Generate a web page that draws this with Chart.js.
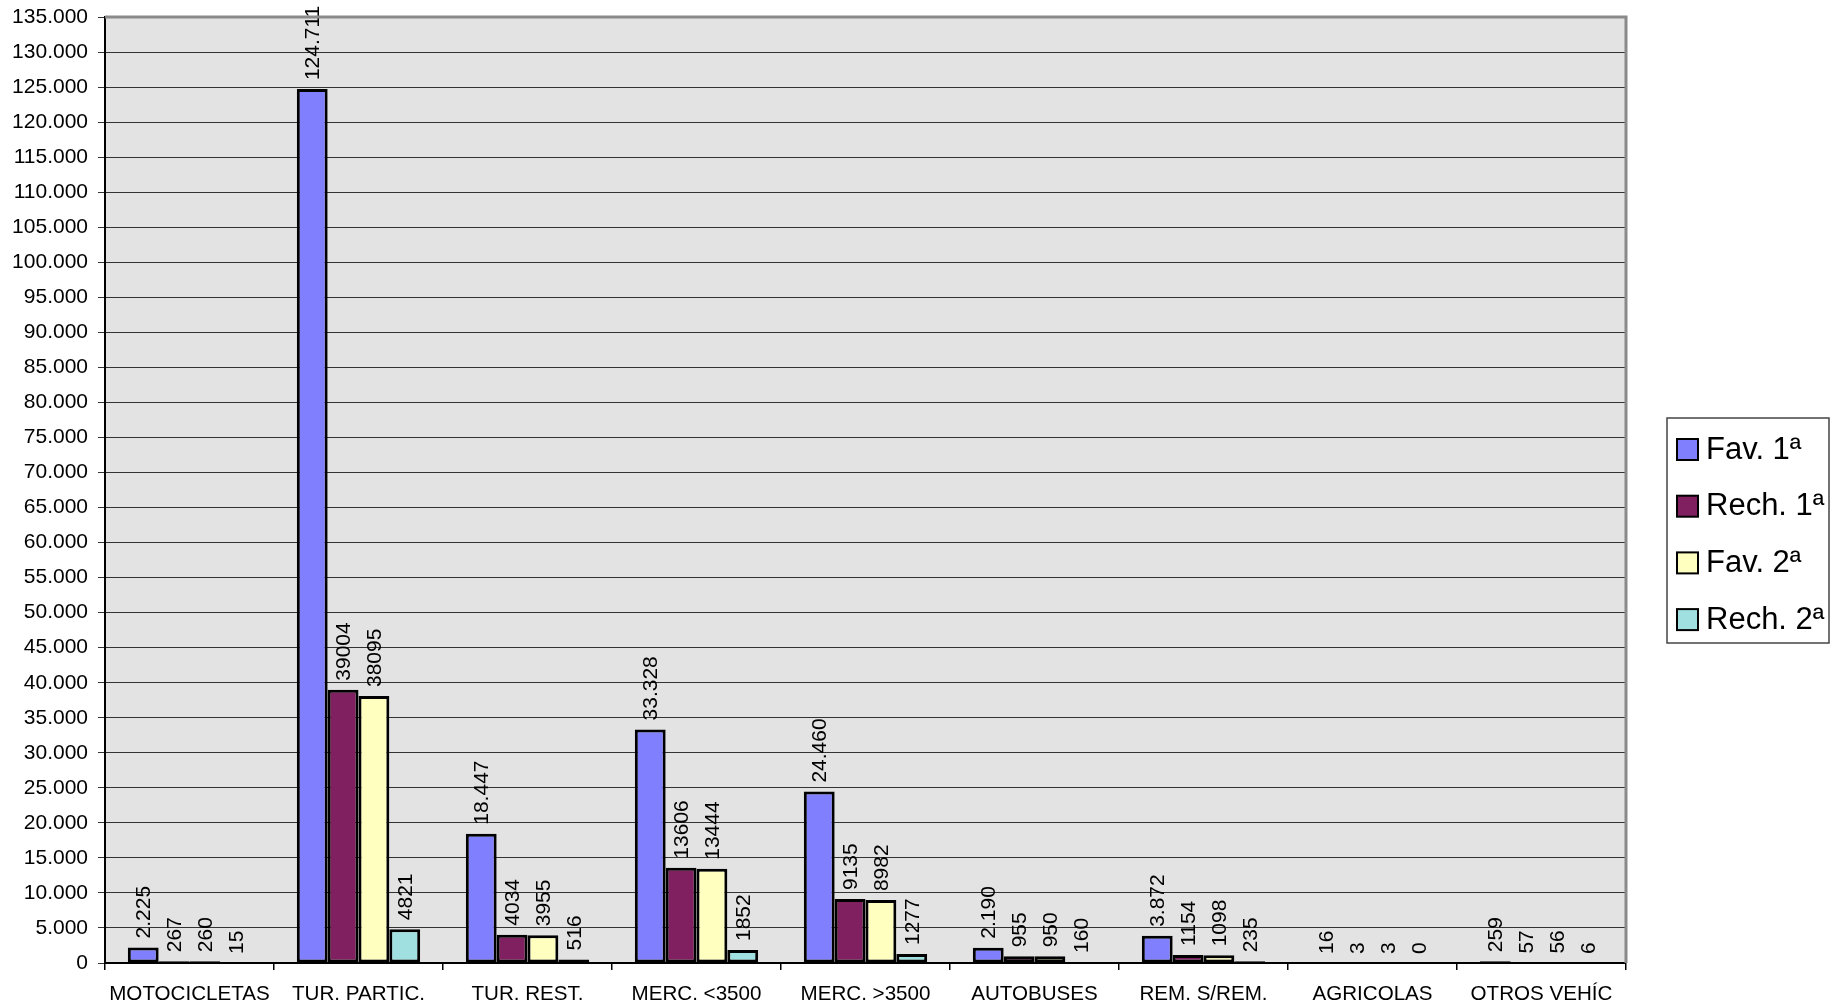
<!DOCTYPE html>
<html>
<head>
<meta charset="utf-8">
<script src="https://cdn.jsdelivr.net/npm/chart.js@4.4.0/dist/chart.umd.min.js"></script>
<style>
html,body{margin:0;padding:0;background:#fff;}
#wrap{width:1843px;height:1007px;position:relative;}
</style>
</head>
<body>
<div id="wrap"><canvas id="c" width="1843" height="1007"></canvas></div>
<script>
const categories = ["MOTOCICLETAS","TUR. PARTIC.","TUR. REST.","MERC. <3500","MERC. >3500","AUTOBUSES","REM. S/REM.","AGRICOLAS","OTROS VEHÍC"];
const fav1  = [2225, 124711, 18447, 33328, 24460, 2190, 3872, 16, 259];
const rech1 = [267, 39004, 4034, 13606, 9135, 955, 1154, 3, 57];
const fav2  = [260, 38095, 3955, 13444, 8982, 950, 1098, 3, 56];
const rech2 = [15, 4821, 516, 1852, 1277, 160, 235, 0, 6];
const seriesLabels = ["Fav. 1ª","Rech. 1ª","Fav. 2ª","Rech. 2ª"];
const seriesColors = ["#8080ff","#802060","#ffffc0","#a0e0e0"];
const yMin = 0, yMax = 135000, yStep = 5000;

const FONT = "'Liberation Sans', Arial, sans-serif";
function dots(v){ return String(v).replace(/\B(?=(\d{3})+(?!\d))/g, "."); }

const bgPlugin = {
  id:'bg',
  beforeDraw(chart){
    const {ctx, chartArea:a} = chart;
    ctx.save();
    ctx.fillStyle = '#e3e3e3';
    ctx.fillRect(a.left, a.top, a.right-a.left, a.bottom-a.top);
    ctx.restore();
  },
  afterDraw(chart){
    const {ctx, chartArea:a} = chart;
    ctx.save();
    ctx.strokeStyle = '#8a8a8a';
    ctx.lineWidth = 3;
    ctx.beginPath();
    ctx.moveTo(a.left, a.top);
    ctx.lineTo(a.right, a.top);
    ctx.lineTo(a.right, a.bottom);
    ctx.stroke();
    // legend
    const lx = a.right + 41, ly = 418, lw = 162, lh = 225;
    ctx.fillStyle = '#fff';
    ctx.fillRect(lx, ly, lw, lh);
    ctx.strokeStyle = '#444';
    ctx.lineWidth = 1.5;
    ctx.strokeRect(lx, ly, lw, lh);
    chart.data.datasets.forEach((ds, i) => {
      const cy = ly + 31 + i*56.7;
      ctx.fillStyle = ds.backgroundColor;
      ctx.fillRect(lx+10, cy-10, 21, 21);
      ctx.strokeStyle = '#000';
      ctx.lineWidth = 2;
      ctx.strokeRect(lx+10, cy-10, 21, 21);
      ctx.fillStyle = '#000';
      ctx.font = "31px " + FONT;
      ctx.textAlign = 'left';
      ctx.textBaseline = 'middle';
      ctx.fillText(ds.label, lx+39, cy+1);
    });
    ctx.restore();
  }
};

const labelPlugin = {
  id:'vlabels',
  afterDatasetsDraw(chart){
    const {ctx} = chart;
    ctx.save();
    ctx.font = "21px " + FONT;
    ctx.fillStyle = '#000';
    ctx.textAlign = 'left';
    ctx.textBaseline = 'middle';
    chart.data.datasets.forEach((ds, di) => {
      const meta = chart.getDatasetMeta(di);
      meta.data.forEach((el, i) => {
        const v = ds.data[i];
        const txt = di === 0 ? dots(v) : String(v);
        ctx.save();
        ctx.translate(el.x + 1, el.y - 9);
        ctx.rotate(-Math.PI/2);
        ctx.fillText(txt, 0, 0);
        ctx.restore();
      });
    });
    ctx.restore();
  }
};

const datasets = [fav1, rech1, fav2, rech2].map((d, i) => ({
  label: seriesLabels[i],
  data: d,
  backgroundColor: seriesColors[i],
  borderColor: '#000',
  borderWidth: 3,
  borderSkipped: false,
  categoryPercentage: 0.73,
  barPercentage: 1.0
}));

new Chart(document.getElementById('c'), {
  type: 'bar',
  data: { labels: categories, datasets },
  options: {
    responsive: false,
    animation: false,
    devicePixelRatio: 1,
    layout: { padding: { left: 0, top: 17, right: 217, bottom: 0 } },
    plugins: { legend: { display: false }, tooltip: { enabled: false } },
    scales: {
      x: {
        type: 'category',
        offset: true,
        grid: { offset: true, drawOnChartArea: false, drawTicks: true, tickLength: 7, color: '#000', lineWidth: 1.5 },
        border: { display: true, color: '#000', width: 2 },
        ticks: { color: '#000', font: { family: FONT, size: 20.6 }, padding: 12, maxRotation: 0, autoSkip: false },
        afterFit(s){ s.height = 44; s.paddingLeft = 0; s.paddingRight = 0; }
      },
      y: {
        min: yMin, max: yMax,
        grid: { color: '#333', lineWidth: 1, drawTicks: true, tickLength: 7 },
        border: { display: true, color: '#000', width: 2 },
        ticks: { stepSize: yStep, color: '#000', font: { family: FONT, size: 21 }, padding: 10, autoSkip: false, callback: v => dots(v) },
        afterFit(s){ s.width = 105; s.paddingTop = 0; s.paddingBottom = 0; }
      }
    }
  },
  plugins: [bgPlugin, labelPlugin]
});
</script>
</body>
</html>
